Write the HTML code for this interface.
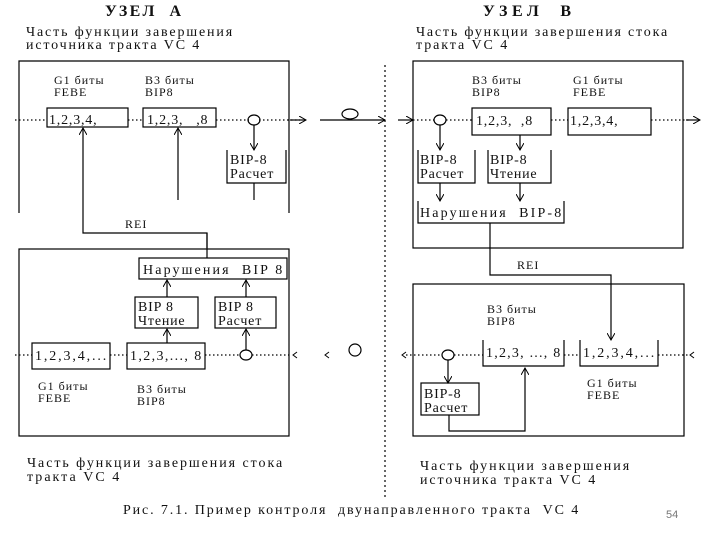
<!DOCTYPE html>
<html><head><meta charset="utf-8"><style>
html,body{margin:0;padding:0;background:#fff;}
svg{display:block;}
text{font-family:"Liberation Serif","DejaVu Serif",serif;fill:#111;}
.t{font-size:14px;letter-spacing:0.8px;}
.s{font-size:12px;letter-spacing:1px;}
.b{font-size:16px;letter-spacing:1px;font-weight:bold;}
</style></head><body>
<svg width="720" height="540" viewBox="0 0 720 540" xmlns="http://www.w3.org/2000/svg">
<defs><marker id="a" markerWidth="8" markerHeight="8" refX="7" refY="4" orient="auto" markerUnits="userSpaceOnUse"><path d="M0,0 L7,4 L0,8" fill="none" stroke="#000" stroke-width="1"/></marker></defs>
<g stroke="#000" stroke-width="1.2" fill="none">
<path d="M19,213 V61 H289 V213"/>
<line x1="15" y1="120" x2="47" y2="120" stroke-dasharray="1.5,2.5"/>
<line x1="128" y1="120" x2="143" y2="120" stroke-dasharray="1.5,2.5"/>
<line x1="216" y1="120" x2="249" y2="120" stroke-dasharray="1.5,2.5"/>
<line x1="259" y1="120" x2="300" y2="120" stroke-dasharray="1.5,2.5"/>
<line x1="290" y1="120" x2="306" y2="120" marker-end="url(#a)"/>
<rect x="47" y="108" width="81" height="19"/>
<rect x="143" y="108" width="73" height="19"/>
<ellipse cx="254" cy="120" rx="6" ry="5"/>
<line x1="254" y1="125" x2="254" y2="150" marker-end="url(#a)"/>
<path d="M227,150 V183 H286 V150"/>
<line x1="254" y1="183" x2="254" y2="200"/>
<line x1="178" y1="200" x2="178" y2="128" marker-end="url(#a)"/>
<path d="M207,248 V233 H83 V128" marker-end="url(#a)"/>
<line x1="320" y1="120" x2="385" y2="120" marker-end="url(#a)"/>
<ellipse cx="350" cy="114" rx="8" ry="5"/>
<line x1="385" y1="65" x2="385" y2="500" stroke-dasharray="2,3"/>
<line x1="398" y1="120" x2="413" y2="120" marker-end="url(#a)"/>
<rect x="413" y="61" width="270" height="187"/>
<line x1="413" y1="120" x2="434" y2="120" stroke-dasharray="1.5,2.5"/>
<line x1="446" y1="120" x2="472" y2="120" stroke-dasharray="1.5,2.5"/>
<line x1="551" y1="120" x2="568" y2="120" stroke-dasharray="1.5,2.5"/>
<line x1="651" y1="120" x2="690" y2="120" stroke-dasharray="1.5,2.5"/>
<line x1="686" y1="120" x2="700" y2="120" marker-end="url(#a)"/>
<ellipse cx="440" cy="120" rx="6" ry="5"/>
<rect x="472" y="108" width="79" height="27"/>
<rect x="568" y="108" width="83" height="27"/>
<line x1="440" y1="125" x2="440" y2="150" marker-end="url(#a)"/>
<line x1="520" y1="135" x2="520" y2="150" marker-end="url(#a)"/>
<path d="M418,150 V183 H475 V150"/>
<path d="M488,150 V183 H551 V150"/>
<line x1="440" y1="183" x2="440" y2="201" marker-end="url(#a)"/>
<line x1="520" y1="183" x2="520" y2="201" marker-end="url(#a)"/>
<path d="M418,201 V223 H564 V201"/>
<path d="M490,223 V275 H611 V340" marker-end="url(#a)"/>
<rect x="19" y="249" width="270" height="187"/>
<line x1="207" y1="233" x2="207" y2="258"/>
<rect x="139" y="258" width="148" height="21"/>
<rect x="135" y="297" width="63" height="31"/>
<rect x="215" y="297" width="61" height="31"/>
<line x1="167" y1="297" x2="167" y2="280" marker-end="url(#a)"/>
<line x1="246" y1="297" x2="246" y2="280" marker-end="url(#a)"/>
<line x1="167" y1="343" x2="167" y2="329" marker-end="url(#a)"/>
<line x1="246" y1="350" x2="246" y2="329" marker-end="url(#a)"/>
<rect x="32" y="343" width="78" height="26"/>
<rect x="127" y="343" width="78" height="26"/>
<line x1="15" y1="355" x2="32" y2="355" stroke-dasharray="1.5,2.5"/>
<line x1="110" y1="355" x2="127" y2="355" stroke-dasharray="1.5,2.5"/>
<line x1="205" y1="355" x2="240" y2="355" stroke-dasharray="1.5,2.5"/>
<line x1="252" y1="355" x2="292" y2="355" stroke-dasharray="1.5,2.5"/>
<ellipse cx="246" cy="355" rx="6" ry="5"/>
<path d="M297,352 L293,355 L297,358" stroke-width="1"/>
<path d="M329,352 L325,355 L329,358" stroke-width="1"/>
<ellipse cx="355" cy="350" rx="6" ry="6"/>
<rect x="413" y="284" width="271" height="152"/>
<path d="M483,340 V366 H564 V340"/>
<path d="M580,340 V366 H658 V340"/>
<line x1="406" y1="355" x2="442" y2="355" stroke-dasharray="1.5,2.5"/>
<line x1="454" y1="355" x2="483" y2="355" stroke-dasharray="1.5,2.5"/>
<line x1="564" y1="355" x2="580" y2="355" stroke-dasharray="1.5,2.5"/>
<line x1="658" y1="355" x2="690" y2="355" stroke-dasharray="1.5,2.5"/>
<path d="M406,352 L402,355 L406,358" stroke-width="1"/>
<path d="M694,352 L690,355 L694,358" stroke-width="1"/>
<ellipse cx="448" cy="355" rx="6" ry="5"/>
<line x1="448" y1="360" x2="448" y2="383" marker-end="url(#a)"/>
<rect x="421" y="383" width="58" height="32"/>
<path d="M449,415 V431 H525 V368" marker-end="url(#a)"/>
</g>
<g>
<text x="105" y="16" class="b" textLength="77" lengthAdjust="spacing">УЗЕЛ &#160;А</text>
<text x="483" y="16" class="b" textLength="89" lengthAdjust="spacing">УЗЕЛ &#160;В</text>
<text x="26" y="36" class="t" textLength="207" lengthAdjust="spacing">Часть функции завершения</text>
<text x="26" y="49" class="t" textLength="174" lengthAdjust="spacing">источника тракта VC 4</text>
<text x="416" y="36" class="t" textLength="252" lengthAdjust="spacing">Часть функции завершения стока</text>
<text x="416" y="49" class="t" textLength="92" lengthAdjust="spacing">тракта VC 4</text>
<text x="54" y="84" class="s">G1 биты</text>
<text x="54" y="96" class="s">FEBE</text>
<text x="145" y="84" class="s">B3 биты</text>
<text x="145" y="96" class="s">BIP8</text>
<text x="49" y="124" class="t">1,2,3,4,</text>
<text x="147" y="124" class="t">1,2,3, &#160; ,8</text>
<text x="230" y="164" class="t">BIP-8</text>
<text x="230" y="178" class="t">Расчет</text>
<text x="125" y="228" class="s">REI</text>
<text x="472" y="84" class="s">B3 биты</text>
<text x="472" y="96" class="s">BIP8</text>
<text x="573" y="84" class="s">G1 биты</text>
<text x="573" y="96" class="s">FEBE</text>
<text x="476" y="125" class="t">1,2,3, &#160;,8</text>
<text x="570" y="125" class="t">1,2,3,4,</text>
<text x="420" y="164" class="t">BIP-8</text>
<text x="420" y="178" class="t">Расчет</text>
<text x="490" y="164" class="t">BIP-8</text>
<text x="490" y="178" class="t">Чтение</text>
<text x="420" y="217" class="t" textLength="142" lengthAdjust="spacing">Нарушения &#160;BIP-8</text>
<text x="517" y="269" class="s">REI</text>
<text x="143" y="274" class="t" textLength="140" lengthAdjust="spacing">Нарушения &#160;BIP 8</text>
<text x="138" y="311" class="t">BIP 8</text>
<text x="138" y="325" class="t">Чтение</text>
<text x="218" y="311" class="t">BIP 8</text>
<text x="218" y="325" class="t">Расчет</text>
<text x="35" y="360" class="t" textLength="72" lengthAdjust="spacing">1,2,3,4,...</text>
<text x="130" y="360" class="t" textLength="72" lengthAdjust="spacing">1,2,3,..., 8</text>
<text x="38" y="390" class="s">G1 биты</text>
<text x="38" y="402" class="s">FEBE</text>
<text x="137" y="393" class="s">B3 биты</text>
<text x="137" y="405" class="s">BIP8</text>
<text x="487" y="313" class="s">B3 биты</text>
<text x="487" y="325" class="s">BIP8</text>
<text x="486" y="357" class="t" textLength="75" lengthAdjust="spacing">1,2,3, ..., 8</text>
<text x="583" y="357" class="t" textLength="72" lengthAdjust="spacing">1,2,3,4,...</text>
<text x="587" y="387" class="s">G1 биты</text>
<text x="587" y="399" class="s">FEBE</text>
<text x="424" y="398" class="t">BIP-8</text>
<text x="424" y="412" class="t">Расчет</text>
<text x="27" y="467" class="t" textLength="256" lengthAdjust="spacing">Часть функции завершения стока</text>
<text x="27" y="481" class="t" textLength="93" lengthAdjust="spacing">тракта VC 4</text>
<text x="420" y="470" class="t" textLength="210" lengthAdjust="spacing">Часть функции завершения</text>
<text x="420" y="484" class="t" textLength="176" lengthAdjust="spacing">источника тракта VC 4</text>
<text x="123" y="514" class="t" textLength="456" lengthAdjust="spacing">Рис. 7.1. Пример контроля &#160;двунаправленного тракта &#160;VC 4</text>
<text x="666" y="518" style="font-family:'Liberation Sans',sans-serif;font-size:11px;fill:#777">54</text>
</g>
</svg>
</body></html>
